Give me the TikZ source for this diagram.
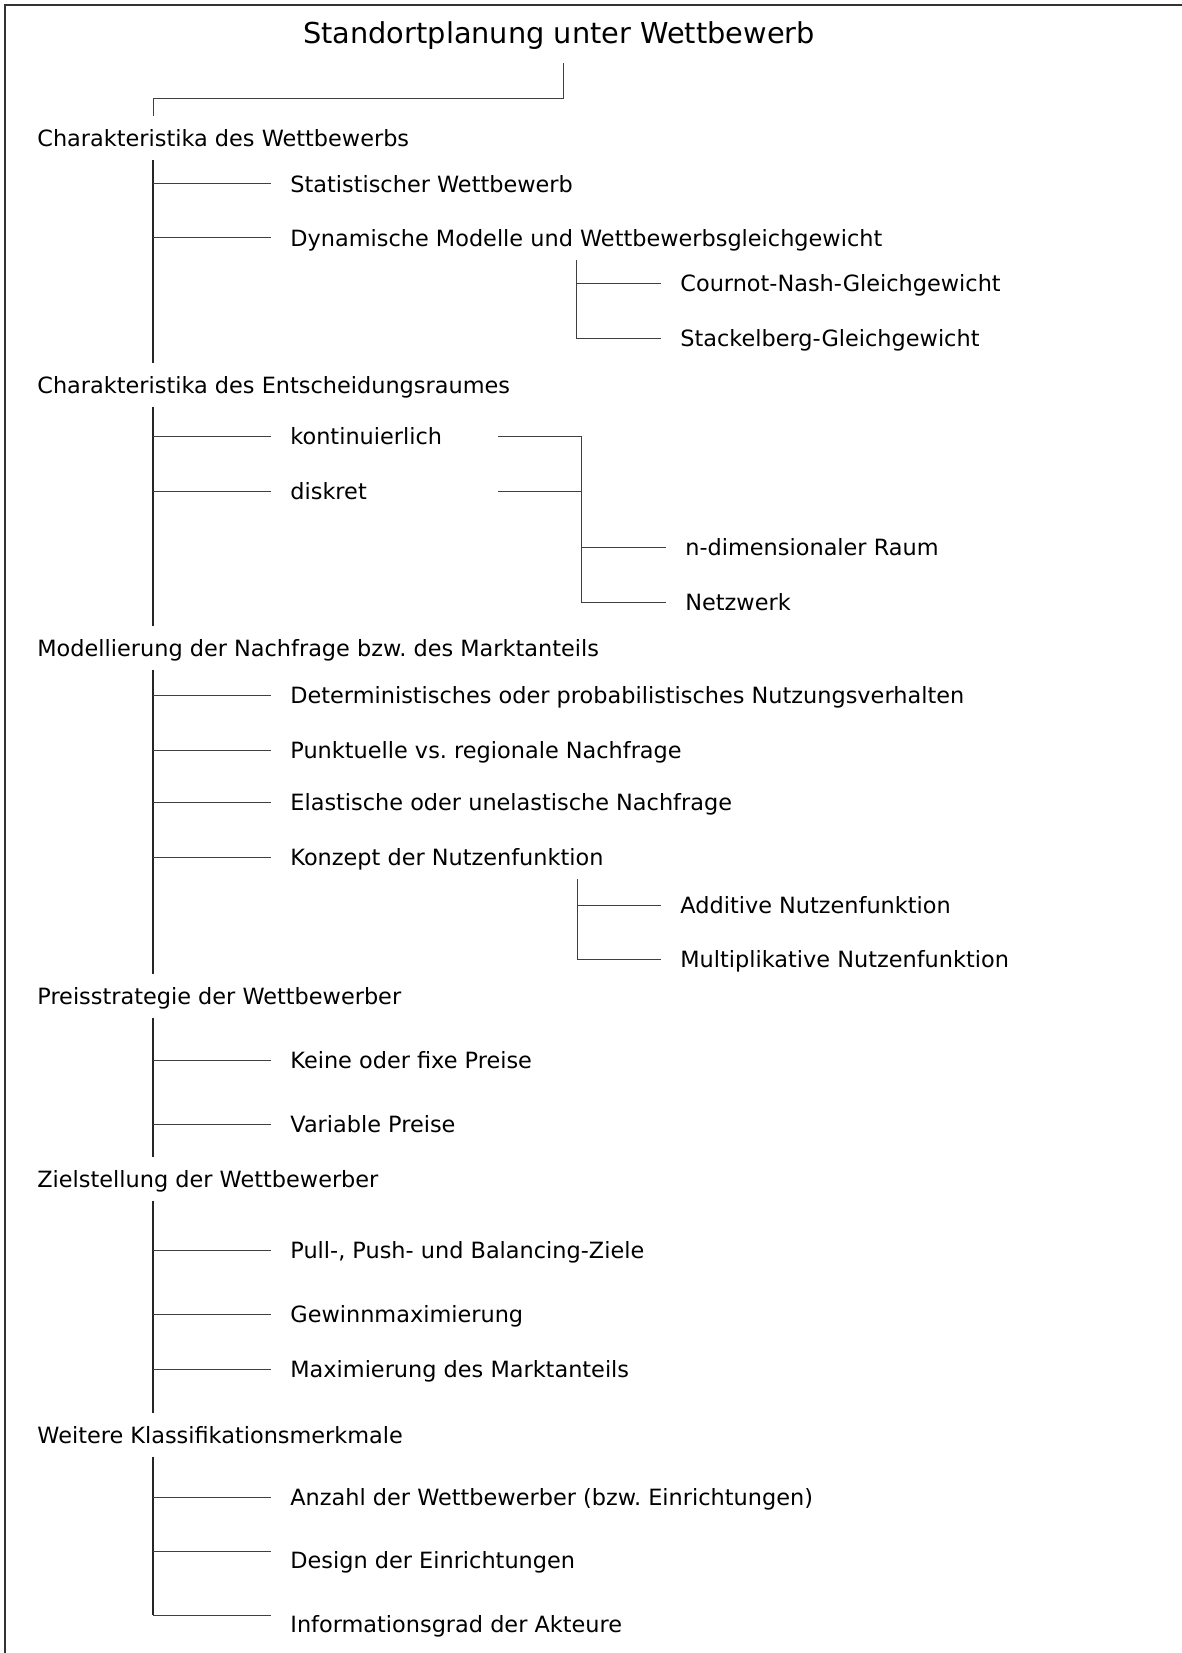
\documentclass[tikz,border=0pt]{standalone}
\usepackage{fontspec}
\setmainfont{DejaVu Sans}

\begin{document}
\frenchspacing
\begin{tikzpicture}[x=0.5pt,y=-0.5pt,
	cat/.style={anchor=west,inner xsep=0pt,inner ysep=3.5pt,text height=11.5pt,text depth=2.7pt,font=\fontsize{11.2}{13}\selectfont},
	item/.style={cat,inner xsep=9.5pt},
	bar/.style={line width=0.7pt,black!85},
	branch/.style={line width=0.5pt,black!75}]
	\useasboundingbox (0,0) rectangle (1182,1653);
	\draw[line width=1pt,black!80] (5,1653) -- (5,5) -- (1182,5);
	\node[font=\fontsize{14.4}{17}\selectfont,text height=13.9pt,text depth=3.5pt,inner ysep=6.3pt] (title) at (559,33) {Standortplanung unter Wettbewerb};
	\coordinate (spine) at (153,0);
	\coordinate (bend) at (153,99);
	\coordinate (dbar) at (576,0);
	\coordinate (kbar) at (577,0);
	\coordinate (rstart) at (498,0);
	\coordinate (rbar) at (581,0);

	\node[cat] (c1) at (37,138) {Charakteristika des Wettbewerbs};
	\node[cat] (c2) at (37,385) {Charakteristika des Entscheidungsraumes};
	\node[cat] (c3) at (37,648) {Modellierung der Nachfrage bzw. des Marktanteils};
	\node[cat] (c4) at (37,996) {Preisstrategie der Wettbewerber};
	\node[cat] (c5) at (37,1179) {Zielstellung der Wettbewerber};
	\node[cat] (c6) at (37,1435) {Weitere Klassifikationsmerkmale};

	\node[item] (stat) at (271,184) {Statistischer Wettbewerb};
	\node[item] (dyn) at (271,238) {Dynamische Modelle und Wettbewerbsgleichgewicht};
	\node[item] (cn) at (661,283) {Cournot-Nash-Gleichgewicht};
	\node[item] (stb) at (661,338) {Stackelberg-Gleichgewicht};
	\node[item] (kont) at (271,436) {kontinuierlich};
	\node[item] (disk) at (271,491) {diskret};
	\node[item] (ndim) at (666,547) {n-dimensionaler Raum};
	\node[item] (netz) at (666,602) {Netzwerk};
	\node[item] (det) at (271,695) {Deterministisches oder probabilistisches Nutzungsverhalten};
	\node[item] (punkt) at (271,750) {Punktuelle vs. regionale Nachfrage};
	\node[item] (elast) at (271,802) {Elastische oder unelastische Nachfrage};
	\node[item] (konz) at (271,857) {Konzept der Nutzenfunktion};
	\node[item] (add) at (661,905) {Additive Nutzenfunktion};
	\node[item] (mult) at (661,959) {Multiplikative Nutzenfunktion};
	\node[item] (fix) at (271,1060) {Keine oder fixe Preise};
	\node[item] (var) at (271,1124) {Variable Preise};
	\node[item] (pull) at (271,1250) {Pull-, Push- und Balancing-Ziele};
	\node[item] (gew) at (271,1314) {Gewinnmaximierung};
	\node[item] (maxi) at (271,1369) {Maximierung des Marktanteils};
	\node[item] (anz) at (271,1497) {Anzahl der Wettbewerber (bzw. Einrichtungen)};
	\node[item] (des) at (271,1560) {Design der Einrichtungen};
	\node[item] (info) at (271,1624) {Informationsgrad der Akteure};

	\draw[branch] ([xshift=2pt]title.south) |- (bend) -- (spine |- c1.north);
	\draw[bar] (spine |- c1.south) -- (spine |- c2.north);
	\draw[bar] (spine |- c2.south) -- (spine |- c3.north);
	\draw[bar] (spine |- c3.south) -- (spine |- c4.north);
	\draw[bar] (spine |- c4.south) -- (spine |- c5.north);
	\draw[bar] (spine |- c5.south) -- (spine |- c6.north);
	\draw[bar] (spine |- c6.south) -- ([yshift=4.5pt]spine |- info.west);

	\foreach \n in {stat,dyn,kont,disk,det,punkt,elast,konz,fix,var,pull,gew,maxi,anz}
		\draw[branch] (spine |- \n.west) -- (\n.west);
	\draw[branch] ([yshift=4.5pt]spine |- des.west) -- ([yshift=4.5pt]des.west);
	\draw[branch] ([yshift=4.5pt]spine |- info.west) -- ([yshift=4.5pt]info.west);

	\draw[branch] (dbar |- dyn.south) -- (dbar |- stb.west) -- (stb.west);
	\draw[branch] (dbar |- cn.west) -- (cn.west);
	\draw[branch] (kbar |- konz.south) -- (kbar |- mult.west) -- (mult.west);
	\draw[branch] (kbar |- add.west) -- (add.west);
	\draw[branch] (rstart |- kont.west) -- (rbar |- kont.west) -- (rbar |- netz.west) -- (netz.west);
	\draw[branch] (rstart |- disk.west) -- (rbar |- disk.west);
	\draw[branch] (rbar |- ndim.west) -- (ndim.west);
\end{tikzpicture}
\end{document}
